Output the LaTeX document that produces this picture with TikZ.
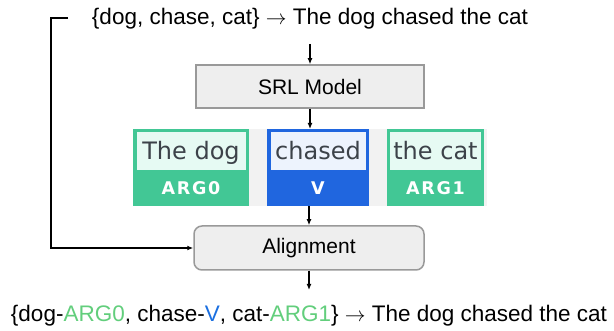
\documentclass[tikz,border=0pt]{standalone}
\usepackage{fontspec}
\setmainfont{Liberation Sans}
\newfontfamily\tagfont{DejaVu Sans}
\newfontfamily\labfont{DejaVu Sans Bold}[LetterSpace=10]
\usetikzlibrary{arrows.meta}
\definecolor{argg}{HTML}{42C795}
\definecolor{argin}{HTML}{E6FAF3}
\definecolor{vblue}{HTML}{2066DF}
\definecolor{vin}{HTML}{EDF3FD}
\definecolor{tagtxt}{HTML}{3C4249}
\definecolor{boxfill}{HTML}{EEEEEE}
\definecolor{boxline}{HTML}{999999}
\definecolor{stripgray}{HTML}{F2F2F2}
\definecolor{txtgreen}{HTML}{62CE7C}
\definecolor{txtblue}{HTML}{1A6FE0}
\begin{document}
\begin{tikzpicture}[x=1pt,y=-1pt,
  arr/.style={-{Latex[length=6pt,width=5pt]}, line width=1.2pt},
  procbox/.style={draw=boxline, line width=1.5pt, fill=boxfill, inner sep=0pt,
    minimum width=228pt, minimum height=43pt, font=\fontsize{21}{25}\selectfont},
  tagouter/.style={inner sep=0pt, minimum height=77pt, anchor=north west},
  tagword/.style={anchor=base, inner sep=0pt, text=tagtxt, font=\tagfont\fontsize{24}{28}\selectfont},
  taglab/.style={anchor=base, inner sep=0pt, text=white, font=\labfont\fontsize{17.5}{21}\selectfont},
  plain/.style={inner sep=0pt, font=\fontsize{22.5}{27}\selectfont}]
\useasboundingbox (0,0) rectangle (614,331);
% top text
\node[plain, anchor=base] (top) at (310,25) {\{dog, chase, cat\} $\rightarrow$ The dog chased the cat};
% SRL model
\node[procbox] (srl) at (310,86.5) {SRL Model};
% tag strip
\fill[stripgray] (133,129) rectangle (487,206);
% ARG0
\node[tagouter, fill=argg, minimum width=116pt] (a0) at (133,129) {};
\fill[argin] (137,132) rectangle (246,170);
\node[tagword] (a0w) at (191,160) {The dog};
\node[taglab] (a0l) at (191,195) {ARG0};
% V
\node[tagouter, fill=vblue, minimum width=102pt] (v) at (267,129) {};
\fill[vin] (271,132) rectangle (366,170);
\node[tagword] (vw) at (318,160) {chased};
\node[taglab] (vl) at (318,195) {V};
% ARG1
\node[tagouter, fill=argg, minimum width=97pt] (a1) at (387,129) {};
\fill[argin] (390,132) rectangle (481,170);
\node[tagword] (a1w) at (435.5,160) {the cat};
\node[taglab] (a1l) at (435.5,195) {ARG1};
% Alignment
\node[procbox, rounded corners=8pt, minimum width=230pt, minimum height=44pt] (align) at (309,248) {Alignment};
% bottom text
\node[plain, anchor=base] (bot) at (309,322) {\{dog-\textcolor{txtgreen}{ARG0}, chase-\textcolor{txtblue}{V}, cat-\textcolor{txtgreen}{ARG1}\} $\rightarrow$ The dog chased the cat};
% connectors
\coordinate (t1) at (310,44);
\coordinate (b0) at (68,18);
\coordinate (bend) at (309,290);
\draw[arr] (t1) -- (srl.north);
\draw[arr] (srl.south) -- (srl.south |- v.north);
\draw[arr] (align.north |- v.south) -- (align.north);
\draw[arr] (align.south) -- (bend);
\draw[arr] (b0) -- (51,18) |- (align.west);
\end{tikzpicture}
\end{document}
